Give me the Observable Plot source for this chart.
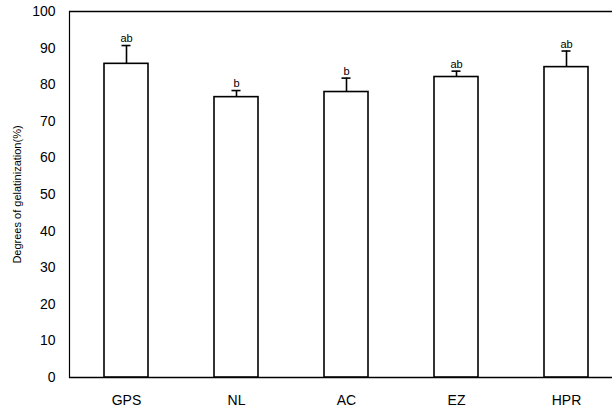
<!DOCTYPE html>
<html><head><meta charset="utf-8">
<script src="https://cdn.jsdelivr.net/npm/d3@7"></script>
<script src="https://cdn.jsdelivr.net/npm/@observablehq/plot@0.6"></script>
<style>html,body{margin:0;padding:0;background:#fff;overflow:hidden;} svg{display:block;}</style>
</head><body><div id="chart"></div>
<script>
const categories = ["GPS", "NL", "AC", "EZ", "HPR"];
const means = [85.7, 76.6, 78.0, 82.1, 84.8];
const upper = [90.7, 78.4, 81.8, 83.7, 89.2];
const letters = ["ab", "b", "b", "ab", "ab"];
const yTicks = [0, 10, 20, 30, 40, 50, 60, 70, 80, 90, 100];

const data = categories.map((c, i) => ({cat: c, mean: means[i], hi: upper[i], letter: letters[i]}));

const chart = Plot.plot({
  width: 612, height: 409,
  marginLeft: 69, marginRight: 0, marginTop: 11, marginBottom: 32,
  style: {fontFamily: "'Liberation Sans', Arial, sans-serif", fontSize: "14px", color: "#000", background: "#fff"},
  x: {domain: categories, paddingInner: 0.6, paddingOuter: 0.255, align: 0.59, label: null, tickSize: 0, tickPadding: 18},
  y: {domain: [0, 100], ticks: yTicks, label: null, tickSize: 0, tickPadding: 14},
  marks: [
    Plot.frame({anchor: "left", stroke: "#000", strokeWidth: 1.2}),
    Plot.ruleY([0, 100], {stroke: "#000", strokeWidth: 1.3}),
    Plot.ruleX(data, {x: "cat", y1: "mean", y2: "hi", stroke: "#000", strokeWidth: 1.6}),
    Plot.tickY(data, {x: "cat", y: "hi", stroke: "#000", strokeWidth: 1.6, insetLeft: 17.5, insetRight: 17.5}),
    Plot.barY(data, {x: "cat", y: "mean", fill: "#fff", stroke: "#000", strokeWidth: 1.6}),
    Plot.text(data, {x: "cat", y: "hi", text: "letter", dy: -7, fontSize: 11, fill: "#000"}),
    Plot.text(["Degrees of gelatinization(%)"], {frameAnchor: "left", textAnchor: "middle", dx: -52, rotate: -90, fontSize: 11, fill: "#000"})
  ]
});
document.getElementById("chart").append(chart);
</script></body></html>
